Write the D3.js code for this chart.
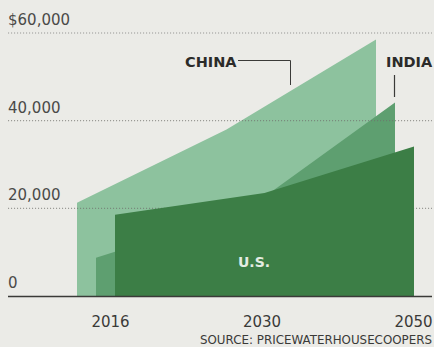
<!DOCTYPE html>
<html>
<head>
<meta charset="utf-8">
<script src="https://cdn.jsdelivr.net/npm/d3@7"></script>
<style>
  html, body { margin: 0; padding: 0; background: #ebebe7; }
  svg { display: block; }
  text { font-family: "DejaVu Sans", sans-serif; }
</style>
</head>
<body>
<svg id="chart" width="434" height="347"></svg>
<script>
// GDP at PPP, billions of US dollars
const years = [2016, 2030, 2050];
const china = [21269, 38008, 58499];
const india = [8721, 19511, 44128];
const us = [18562, 23475, 34102];
const seriesNames = ["CHINA", "INDIA", "U.S."];
const yTicks = [0, 20000, 40000, 60000];
const yTickLabels = ["0", "20,000", "40,000", "$60,000"];
const sourceText = "SOURCE: PRICEWATERHOUSECOOPERS";

const W = 434, H = 347;
const svg = d3.select("#chart");

// layers stacked back-to-front, each set back a little to the left
const layers = [
  { name: seriesNames[0], values: china, depth: 2, fill: "#8dc29e" },
  { name: seriesNames[1], values: india, depth: 1, fill: "#5e9f70" },
  { name: seriesNames[2], values: us,    depth: 0, fill: "#3c7e46" }
];
const depthStep = 19;

const x = d3.scalePoint().domain(years).range([115, 414]);
const xAxisScale = d3.scalePoint().domain(years).range([110, 413]);
const y = d3.scaleLinear().domain([0, 60000]).range([296, 33]);

const area = d3.area()
  .x(d => d.x)
  .y0(y(0))
  .y1(d => y(d.v));

function layerPoints(layer) {
  return years.map((yr, i) => ({ x: x(yr) - layer.depth * depthStep, v: layer.values[i] }));
}

const gBack = svg.append("g");
const gGrid = svg.append("g");
const gFront = svg.append("g");

// back layers
layers.filter(l => l.depth > 0).forEach(l => {
  gBack.append("path").datum(layerPoints(l)).attr("d", area).attr("fill", l.fill);
});

// dotted gridlines
gGrid.selectAll("line.grid").data(yTicks.filter(t => t > 0)).join("line")
  .attr("class", "grid")
  .attr("x1", 8).attr("x2", 432)
  .attr("y1", d => y(d)).attr("y2", d => y(d))
  .attr("stroke", "#6f6f6c")
  .attr("stroke-width", 1.1)
  .attr("stroke-dasharray", "1.1,1.9")
  .attr("opacity", 0.65);

// front layer
layers.filter(l => l.depth === 0).forEach(l => {
  gFront.append("path").datum(layerPoints(l)).attr("d", area).attr("fill", l.fill);
});

// baseline
svg.append("line")
  .attr("x1", 8).attr("x2", 432)
  .attr("y1", y(0) + 0.5).attr("y2", y(0) + 0.5)
  .attr("stroke", "#3a3a38").attr("stroke-width", 1.6);

// y tick labels
svg.selectAll("text.ytick").data(yTicks).join("text")
  .attr("class", "ytick")
  .attr("x", 8)
  .attr("y", d => y(d) - 8)
  .attr("font-size", 15)
  .attr("fill", "#4a4a48")
  .text((d, i) => yTickLabels[i]);

// x axis labels
const xAxis = d3.axisBottom(xAxisScale).tickSize(0).tickFormat(d3.format("d"));
const gx = svg.append("g").attr("transform", `translate(0,${y(0) + 17})`).call(xAxis);
gx.select(".domain").remove();
gx.selectAll("text")
  .attr("font-size", 15)
  .attr("font-family", "DejaVu Sans, sans-serif")
  .attr("fill", "#3a3a38")
  .attr("dy", "0.71em");

// series labels
svg.append("text")
  .attr("x", 185).attr("y", 67)
  .attr("font-size", 14.5).attr("font-weight", "bold")
  .attr("fill", "#2b2b2a")
  .text(seriesNames[0]);
svg.append("path")
  .attr("d", "M238,60.5H290.5V85")
  .attr("fill", "none").attr("stroke", "#3a3a38").attr("stroke-width", 1);

svg.append("text")
  .attr("x", 386).attr("y", 67)
  .attr("font-size", 14.5).attr("font-weight", "bold")
  .attr("fill", "#2b2b2a")
  .text(seriesNames[1]);
svg.append("line")
  .attr("x1", 394.5).attr("x2", 394.5).attr("y1", 75).attr("y2", 97)
  .attr("stroke", "#3a3a38").attr("stroke-width", 1.2);

svg.append("text")
  .attr("x", 254).attr("y", 267)
  .attr("text-anchor", "middle")
  .attr("font-size", 14).attr("font-weight", "bold")
  .attr("fill", "#e4ece2")
  .text(seriesNames[2]);

// source note
svg.append("text")
  .attr("x", 432).attr("y", 344)
  .attr("text-anchor", "end")
  .attr("font-size", 11.5)
  .attr("fill", "#3a3a38")
  .attr("textLength", 232)
  .attr("lengthAdjust", "spacingAndGlyphs")
  .text(sourceText);
</script>
</body>
</html>
